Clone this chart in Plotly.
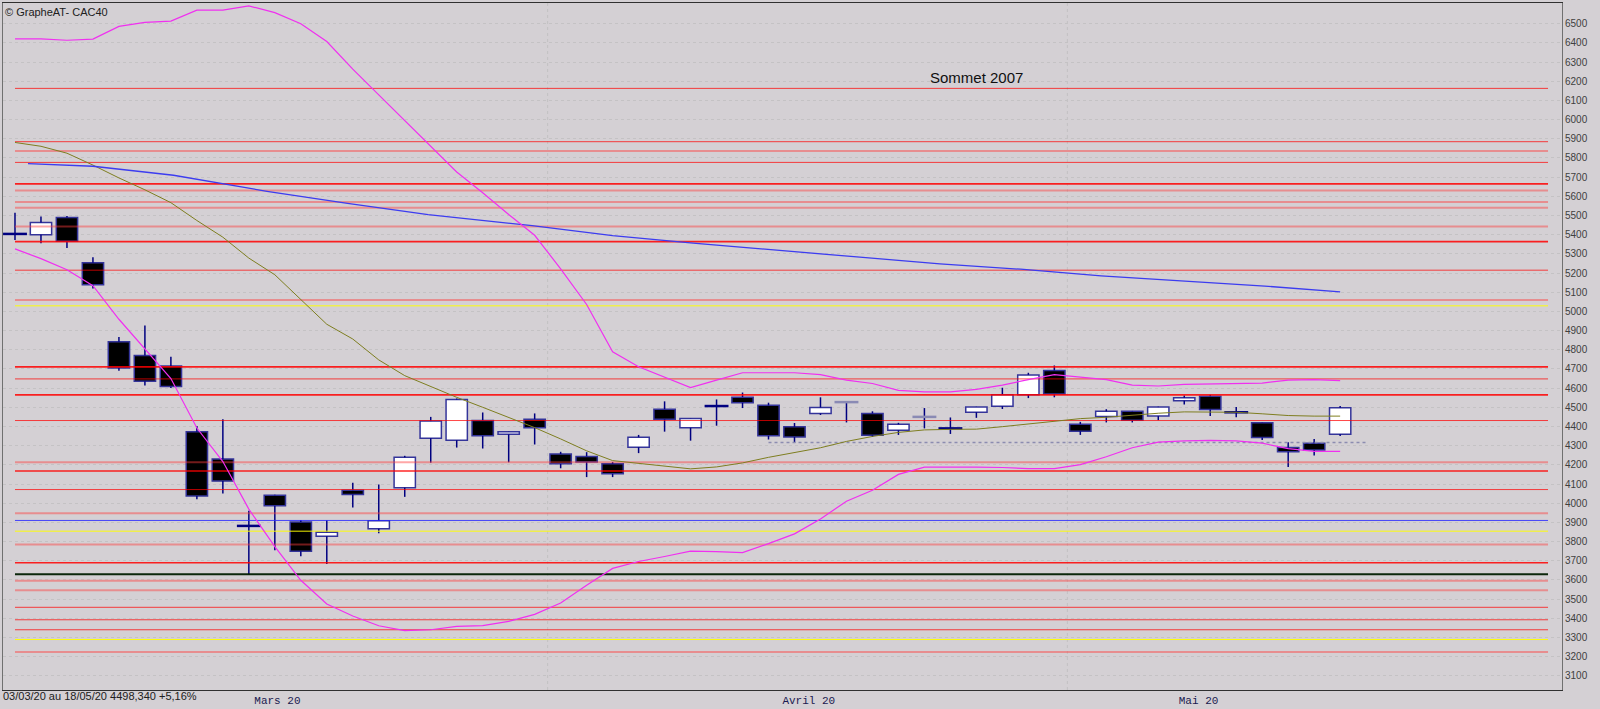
import plotly.graph_objects as go

# ---------------- data ----------------
# one candle per trading day, 03/03/20 .. 18/05/20 (index 0..51)
opens  = [5406, 5400, 5490, 5254, 4842, 4770, 4715, 4373, 4230, 3883,
          4041, 3902, 3827, 4067, 3866, 4081, 4339, 4328, 4431, 4359,
          4438, 4256, 4244, 4205, 4292, 4490, 4393, 4506, 4553, 4510,
          4398, 4468, 4527, 4468, 4380, 4450, 4389, 4474, 4505, 4565,
          4692, 4412, 4452, 4479, 4454, 4534, 4558, 4473, 4419, 4290,
          4313, 4359]
highs  = [5515, 5495, 5498, 5283, 4867, 4926, 4764, 4402, 4437, 3960,
          4044, 3912, 3911, 4107, 4098, 4247, 4450, 4546, 4473, 4374,
          4468, 4268, 4266, 4215, 4356, 4531, 4443, 4541, 4577, 4524,
          4418, 4552, 4527, 4479, 4419, 4496, 4447, 4503, 4602, 4680,
          4718, 4424, 4490, 4481, 4503, 4562, 4565, 4501, 4421, 4318,
          4335, 4507]
lows   = [5373, 5356, 5330, 5120, 4691, 4613, 4600, 4021, 4050, 3629,
          3754, 3723, 3683, 3978, 3843, 4033, 4211, 4290, 4285, 4213,
          4306, 4182, 4136, 4136, 4261, 4373, 4326, 4404, 4496, 4332,
          4314, 4460, 4421, 4345, 4356, 4390, 4361, 4445, 4491, 4548,
          4552, 4356, 4421, 4421, 4433, 4515, 4455, 4448, 4330, 4189,
          4249, 4350]
closes = [5402, 5464, 5366, 5139, 4705, 4636, 4608, 4038, 4115, 3880,
          3986, 3749, 3849, 4045, 3909, 4239, 4428, 4541, 4351, 4373,
          4393, 4205, 4215, 4153, 4344, 4437, 4442, 4507, 4524, 4351,
          4345, 4499, 4527, 4354, 4411, 4450, 4391, 4502, 4565, 4669,
          4569, 4375, 4479, 4433, 4501, 4550, 4488, 4475, 4342, 4268,
          4277, 4498]

# Bollinger bands and short moving average (per candle)
boll_upper = [6421, 6421, 6414, 6420, 6486, 6507, 6514, 6571, 6571, 6593,
              6558, 6500, 6407, 6263, 6129, 5995, 5856, 5727, 5619, 5505,
              5397, 5222, 5036, 4789, 4711, 4655, 4603, 4642, 4680, 4680,
              4680, 4670, 4642, 4624, 4588, 4580, 4580, 4593, 4616, 4644,
              4670, 4657, 4644, 4616, 4611, 4619, 4621, 4622, 4626, 4642,
              4644, 4639]
boll_lower = [5326, 5275, 5217, 5134, 4959, 4804, 4650, 4392, 4217, 3969,
              3773, 3598, 3474, 3412, 3361, 3335, 3340, 3358, 3362, 3384,
              3420, 3479, 3572, 3660, 3696, 3722, 3750, 3747, 3742, 3789,
              3840, 3918, 4010, 4067, 4150, 4188, 4189, 4188, 4186, 4180,
              4180, 4201, 4242, 4289, 4318, 4325, 4327, 4325, 4313, 4284,
              4270, 4270]
ma_short   = [5881, 5861, 5825, 5763, 5696, 5634, 5567, 5474, 5387, 5278,
              5191, 5062, 4933, 4856, 4747, 4665, 4608, 4552, 4500, 4448,
              4394, 4335, 4273, 4222, 4208, 4192, 4179, 4189, 4210, 4239,
              4264, 4289, 4322, 4348, 4369, 4382, 4385, 4386, 4399, 4412,
              4428, 4441, 4448, 4459, 4469, 4476, 4476, 4474, 4466, 4457,
              4454, 4454]

# long moving average (sampled along the curve)
ma_long_x = [0.5, 3.0, 6.1, 9.7, 12.8, 15.9, 19.9, 23.0, 26.1, 29.3,
             32.4, 35.6, 38.7, 41.8, 45.0, 48.1, 51.0]
ma_long_y = [5771, 5757, 5710, 5626, 5563, 5505, 5447, 5395, 5356, 5318,
             5284, 5248, 5220, 5185, 5158, 5132, 5102]

# support (dotted) line
support_x = [29, 52]
support_y = [4316, 4316]

# horizontal levels
level_values = [6163, 5885, 5837, 5777, 5665, 5630, 5571, 5540, 5443, 5364,
                5215, 5060, 5029, 4711, 4648, 4565, 4431, 4213, 4168, 4071,
                3948, 3910, 3854, 3785, 3689, 3629, 3595, 3546, 3457, 3392,
                3340, 3289, 3224]
level_types = ['r', 'r', 'p', 'r', 'R', 'p', 'p', 'p', 'p', 'R',
               'r', 'p', 'y', 'R', 'r', 'R', 'r', 'p', 'R', 'r',
               'p', 'b', 'y', 'p', 'R', 'k', 'p', 'p', 'r', 'r',
               'r', 'y', 'p']
level_x = [0, 59]

# axis labels
y_ticks = list(range(3100, 6600, 100))
month_labels = ["Mars 20", "Avril 20", "Mai 20"]
month_label_pos = [10.1, 30.55, 45.55]
month_starts = [20.5, 40.5]

title_text = "© GrapheAT- CAC40"
summary_text = "03/03/20 au 18/05/20 4498,340 +5,16%"
note_text = "Sommet 2007"
note_x, note_y = 37, 6220

# ---------------- figure ----------------
BG = "#D4D0D4"
NAVY = "#000080"
BORDER = "#34349A"

n = len(opens)
xs = list(range(n))

fig = go.Figure()

up_x, up_b, up_h = [], [], []
dn_x, dn_b, dn_h = [], [], []
doji_n_x, doji_n_y = [], []
doji_g_x, doji_g_y = [], []
wick_x, wick_y = [], []
for i in xs:
    o, h, l, c = opens[i], highs[i], lows[i], closes[i]
    top, bot = max(o, c), min(o, c)
    if abs(c - o) < 5:
        mid = (o + c) / 2
        tx, ty = (doji_g_x, doji_g_y) if c == o else (doji_n_x, doji_n_y)
        tx += [i - 0.46, i + 0.46, None]
        ty += [mid, mid, None]
        wick_x += [i, i, None]
        wick_y += [h, l, None]
        continue
    if c > o:
        up_x.append(i); up_b.append(bot); up_h.append(top - bot)
    else:
        dn_x.append(i); dn_b.append(bot); dn_h.append(top - bot)
    if h > top:
        wick_x += [i, i, None]; wick_y += [h, top, None]
    if l < bot:
        wick_x += [i, i, None]; wick_y += [bot, l, None]

fig.add_trace(go.Bar(x=up_x, y=up_h, base=up_b, width=0.82,
                     marker=dict(color="white", line=dict(color=BORDER, width=1.5)),
                     hoverinfo="skip", showlegend=False))
fig.add_trace(go.Bar(x=dn_x, y=dn_h, base=dn_b, width=0.82,
                     marker=dict(color="black", line=dict(color=BORDER, width=1.5)),
                     hoverinfo="skip", showlegend=False))
fig.add_trace(go.Scatter(x=wick_x, y=wick_y, mode="lines",
                         line=dict(color=NAVY, width=1.5),
                         hoverinfo="skip", showlegend=False))
fig.add_trace(go.Scatter(x=doji_n_x, y=doji_n_y, mode="lines",
                         line=dict(color=NAVY, width=2.5),
                         hoverinfo="skip", showlegend=False))
fig.add_trace(go.Scatter(x=doji_g_x, y=doji_g_y, mode="lines",
                         line=dict(color="#8A8AB4", width=2.5),
                         hoverinfo="skip", showlegend=False))

style = {
    'r': dict(color="rgba(255,0,0,0.72)", width=1),
    'R': dict(color="rgba(255,0,0,0.85)", width=1.6),
    'p': dict(color="rgba(255,60,60,0.45)", width=2),
    'y': dict(color="rgba(255,255,0,0.95)", width=1),
    'b': dict(color="rgba(40,40,255,0.85)", width=1),
    'k': dict(color="rgba(0,30,0,0.95)", width=2),
}
for v, t in zip(level_values, level_types):
    fig.add_trace(go.Scatter(x=level_x, y=[v, v], mode="lines", line=style[t],
                             hoverinfo="skip", showlegend=False))

fig.add_trace(go.Scatter(x=support_x, y=support_y, mode="lines",
                         line=dict(color="#8C8CB0", width=1.5, dash="dot"),
                         hoverinfo="skip", showlegend=False))
fig.add_trace(go.Scatter(x=xs, y=ma_short, mode="lines",
                         line=dict(color="#7E7E20", width=1),
                         hoverinfo="skip", showlegend=False))
fig.add_trace(go.Scatter(x=ma_long_x, y=ma_long_y, mode="lines",
                         line=dict(color="#3C3CF0", width=1.3),
                         hoverinfo="skip", showlegend=False))
fig.add_trace(go.Scatter(x=xs, y=boll_upper, mode="lines",
                         line=dict(color="#F030F0", width=1.2),
                         hoverinfo="skip", showlegend=False))
fig.add_trace(go.Scatter(x=xs, y=boll_lower, mode="lines",
                         line=dict(color="#F030F0", width=1.2),
                         hoverinfo="skip", showlegend=False))

for ms in month_starts:
    fig.add_shape(type="line", xref="x", yref="paper", x0=ms, x1=ms, y0=0, y1=1,
                  line=dict(color="#C2C0C2", width=1, dash="dot"), layer="below")

fig.add_annotation(text=title_text, xref="paper", yref="paper", x=0, y=1,
                   xanchor="left", yanchor="middle", yshift=-9, showarrow=False,
                   font=dict(family="Liberation Sans, Arial", size=11, color="#202020"))
fig.add_annotation(text=summary_text, xref="paper", yref="paper", x=0, y=0,
                   xanchor="left", yanchor="middle", yshift=-6, xshift=-2, showarrow=False,
                   font=dict(family="Liberation Sans, Arial", size=11, color="#202020"))
fig.add_annotation(text=note_text, xref="x", yref="y", x=note_x, y=note_y,
                   showarrow=False,
                   font=dict(family="Liberation Sans, Arial", size=15, color="#101010"))

fig.update_layout(
    width=1600, height=709,
    margin=dict(l=2, r=38, t=3, b=11),
    paper_bgcolor=BG, plot_bgcolor=BG,
    barmode="overlay", bargap=0,
    showlegend=False,
    xaxis=dict(range=[-0.4615, 59.538], tickmode="array",
               tickvals=month_label_pos, ticktext=month_labels,
               tickfont=dict(family="Liberation Mono, Courier New", size=11, color="#1A1A50"),
               showgrid=False, zeroline=False, ticks="",
               showline=True, linecolor="#303030", linewidth=1, mirror=True),
    yaxis=dict(range=[3025.8, 6608.2], side="right", tickmode="array",
               tickvals=y_ticks, ticktext=[str(t) for t in y_ticks],
               tickfont=dict(family="Liberation Sans, Arial", size=10, color="#404040"),
               showgrid=True, gridcolor="#C4C2C4", griddash="dot", gridwidth=1,
               zeroline=False, ticks="",
               showline=True, linecolor="#707070", linewidth=1, mirror=True),
)

fig.write_html("out.html",
               config={"displayModeBar": False, "staticPlot": True},
               post_script="document.body.style.margin='0px';"
                           "document.body.style.background='" + BG + "';")
